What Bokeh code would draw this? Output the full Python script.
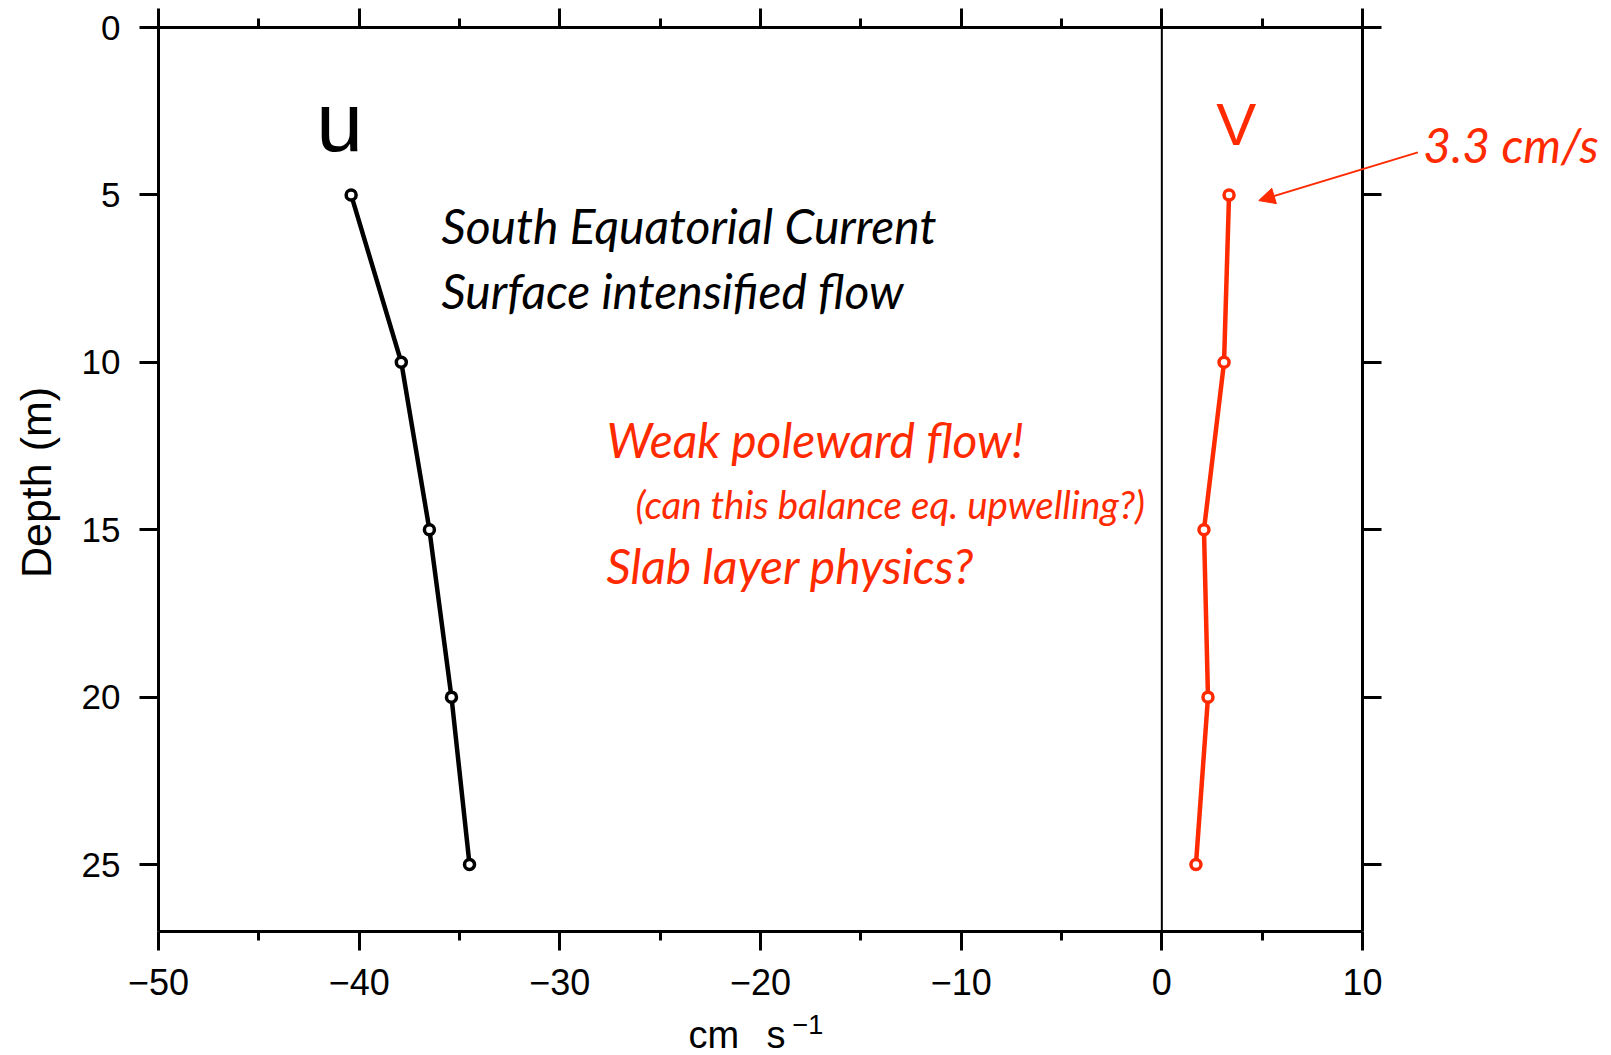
import math
from bokeh.plotting import figure
from bokeh.models import (Range1d, LinearAxis, FixedTicker, Label, Arrow,
                          NormalHead, ColumnDataSource)
from bokeh.embed import file_html
from bokeh.resources import INLINE

# ---- data ----
depth = [5, 10, 15, 20, 25]
u_vel = [-40.4, -37.9, -36.5, -35.4, -34.5]
v_vel = [3.35, 3.1, 2.1, 2.3, 1.7]

x_ticks = [-50, -40, -30, -20, -10, 0, 10]
x_tick_labels = ["\u221250", "\u221240", "\u221230", "\u221220", "\u221210", "0", "10"]
x_minor = [-45, -35, -25, -15, -5, 5]
y_ticks = [0, 5, 10, 15, 20, 25]
y_tick_labels = ["0", "5", "10", "15", "20", "25"]

RED = "#ff2a00"
TICK_FONT = "Liberation Sans"
NOTE_FONT = "Lato"

# ---- geometry of the box (pixels of the 1611x1055 page) ----
W, H = 1611, 1055
BOX_L, BOX_R, BOX_T, BOX_B = 158, 1362, 27, 931
X0, X1 = -50, 10
Y0, Y1 = 0, 27
PXX = (BOX_R - BOX_L) / (X1 - X0)
PXY = (BOX_B - BOX_T) / (Y1 - Y0)
TICK_PX = 19

# the plotting frame covers the whole page, the axes are pinned to the box
# edges, so nothing drawn outside the box gets clipped
x_start = X0 - BOX_L / PXX
x_end = X1 + (W - BOX_R) / PXX
y_start = Y0 - BOX_T / PXY
y_end = Y1 + (H - BOX_B) / PXY


def px_x(px):
    return X0 + (px - BOX_L) / PXX


def px_y(py):
    return Y0 + (py - BOX_T) / PXY


p = figure(width=W, height=H, output_backend="svg", toolbar_location=None,
           x_range=Range1d(x_start, x_end), y_range=Range1d(y_end, y_start),
           x_axis_location=None, y_axis_location=None,
           min_border_left=0, min_border_right=0,
           min_border_top=0, min_border_bottom=0)
p.grid.visible = False
p.outline_line_color = None
p.background_fill_color = "white"
p.border_fill_color = "white"


def style_axis(ax, labels=True):
    ax.axis_line_width = 3
    ax.major_tick_line_width = 3
    ax.minor_tick_line_width = 3
    ax.major_tick_out = TICK_PX
    ax.major_tick_in = 0
    ax.minor_tick_out = 9
    ax.minor_tick_in = 0
    ax.major_label_text_font = TICK_FONT
    ax.major_label_text_color = "black"
    if not labels:
        ax.major_label_text_font_size = "1px"
        ax.major_label_text_color = None
        ax.major_label_standoff = 0


xt = FixedTicker(ticks=x_ticks, minor_ticks=x_minor)
yt = FixedTicker(ticks=y_ticks, minor_ticks=[])

bottom = LinearAxis(ticker=xt, bounds=(X0, X1), fixed_location=Y1)
style_axis(bottom)
bottom.major_label_overrides = dict(zip(x_ticks, x_tick_labels))
bottom.major_label_text_font_size = "36px"
bottom.major_label_standoff = 18
p.add_layout(bottom, "below")

top = LinearAxis(ticker=xt, bounds=(X0, X1), fixed_location=Y0)
style_axis(top, labels=False)
p.add_layout(top, "above")

left = LinearAxis(ticker=yt, bounds=(Y0, Y1), fixed_location=X0)
style_axis(left)
left.major_label_overrides = dict(zip(y_ticks, y_tick_labels))
left.major_label_text_font_size = "35px"
left.major_label_standoff = 19
p.add_layout(left, "left")

right = LinearAxis(ticker=yt, bounds=(Y0, Y1), fixed_location=X1)
style_axis(right, labels=False)
p.add_layout(right, "right")

# zero line
p.segment(x0=[0], y0=[Y0], x1=[0], y1=[Y1], line_color="black", line_width=2)

src_u = ColumnDataSource(dict(x=u_vel, y=depth))
src_v = ColumnDataSource(dict(x=v_vel, y=depth))
p.line("x", "y", source=src_u, line_color="black", line_width=4.5)
p.scatter("x", "y", source=src_u, marker="circle", size=10, fill_color="white",
          line_color="black", line_width=3.5)
p.line("x", "y", source=src_v, line_color=RED, line_width=4.5)
p.scatter("x", "y", source=src_v, marker="circle", size=10, fill_color="white",
          line_color=RED, line_width=3.5)


def note(x, y, text, color, size, style="italic", font=NOTE_FONT, align="left",
         baseline="alphabetic", angle=0):
    p.add_layout(Label(x=x, y=y, text=text, text_color=color, text_font=font,
                       text_font_size=size, text_font_style=style, angle=angle,
                       text_align=align, text_baseline=baseline))


# axis titles
note(px_x(35), px_y(476), "Depth  (m)", "black", "43px",
     style="normal", font=TICK_FONT, align="center", baseline="middle",
     angle=math.pi / 2)
note(px_x(688), px_y(1034), "cm", "black", "38px", style="normal", font=TICK_FONT)
note(px_x(766), px_y(1034), "s", "black", "38px", style="normal", font=TICK_FONT)
note(px_x(792), px_y(1024), "\u22121", "black", "27px", style="normal", font=TICK_FONT)

# series names and notes
note(-40.98, 2.82, "u", "black", "84px", style="normal", font=TICK_FONT, align="center")
note(3.71, 2.90, "V", RED, "60px", style="normal", font=TICK_FONT, align="center")
note(-35.9, 5.91, "South Equatorial Current", "black", "48px")
note(-35.9, 7.86, "Surface intensified flow", "black", "48px")
note(-27.68, 12.31, "Weak poleward flow!", RED, "48px")
note(-26.23, 14.22, "(can this balance eq. upwelling?)", RED, "38.5px")
note(-27.68, 16.07, "Slab layer physics?", RED, "48px")
note(13.03, 3.49, "3.3 cm/s", RED, "48px")

p.add_layout(Arrow(x_start=12.76, y_start=3.73, x_end=4.83, y_end=5.17,
                   line_color=RED, line_width=2,
                   end=NormalHead(size=16, fill_color=RED, line_color=RED, line_width=1)))

open("out.html", "w").write(file_html(p, INLINE))
